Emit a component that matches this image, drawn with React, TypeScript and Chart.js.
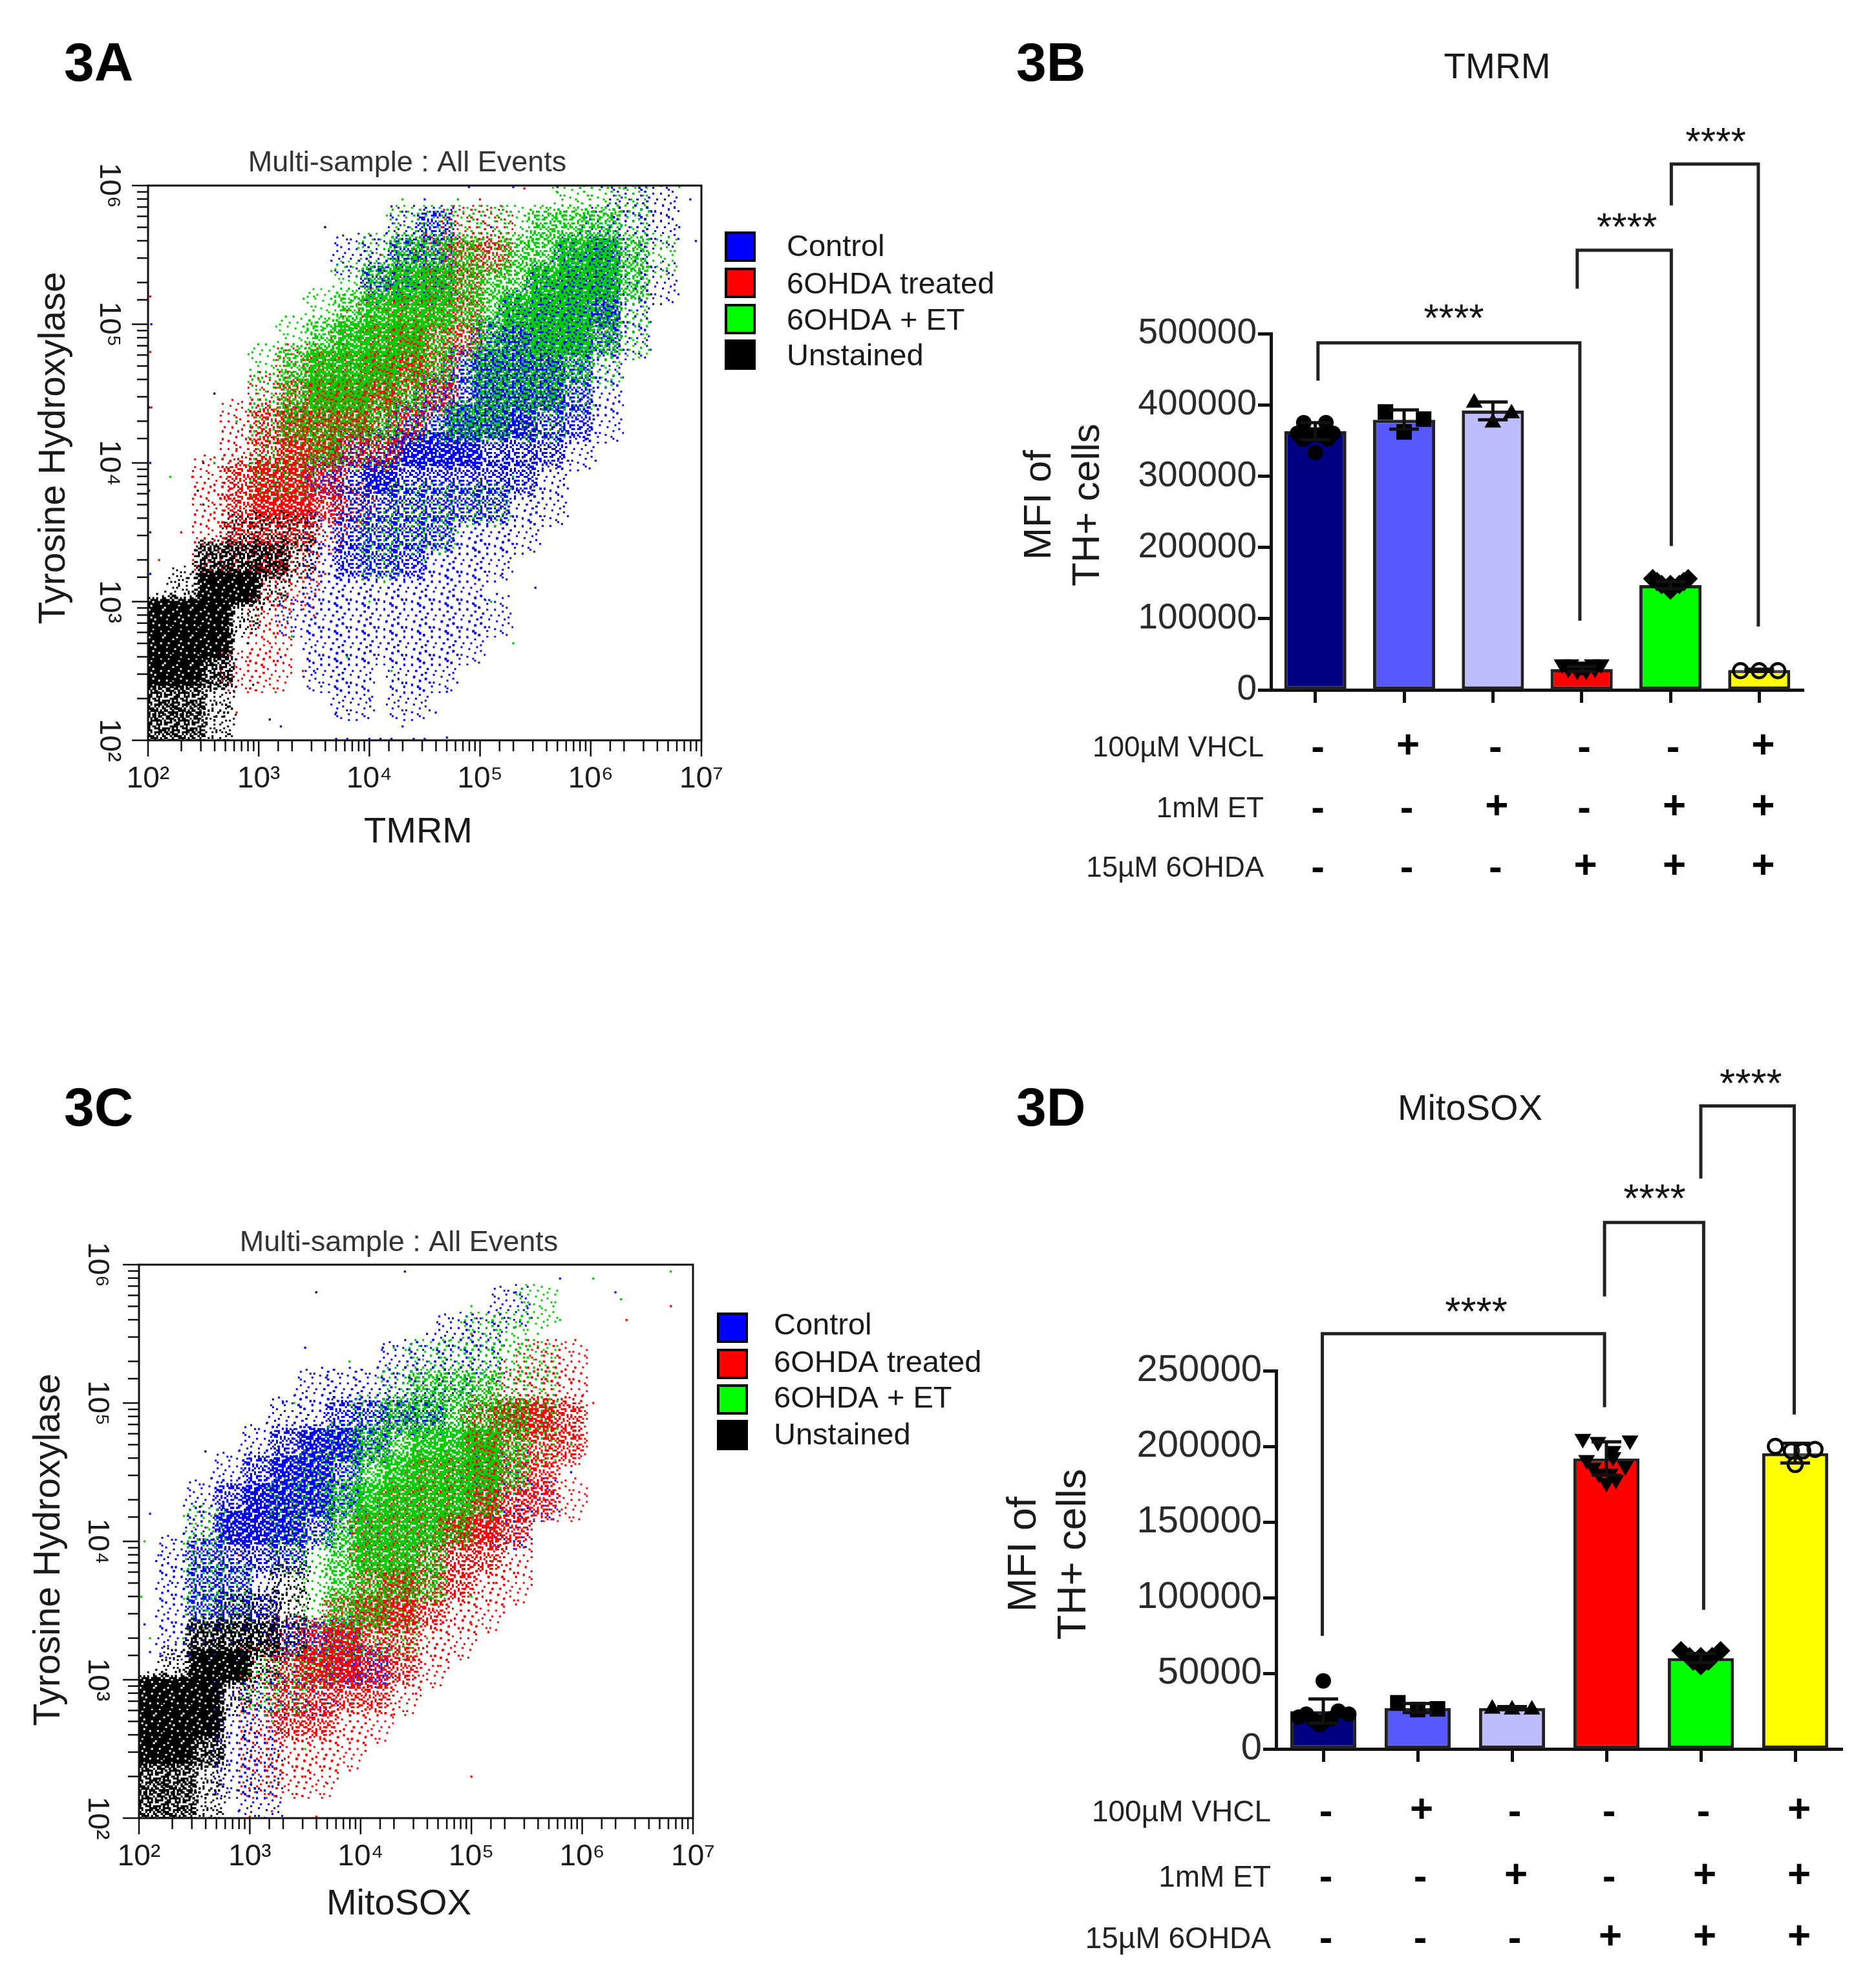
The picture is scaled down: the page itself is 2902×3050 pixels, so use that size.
import React, { useEffect, useRef } from "react";
import { Chart, registerables } from "chart.js";

Chart.register(...registerables);

const FONT = '"Liberation Sans", Arial, sans-serif';

// ---------- Flow cytometry panels ----------
// Hand-read density estimates: each row is [log10 y, [log10 x, ...]] for one tier of cloud density.
// The "Sparse" lists are individually read outlying events as [log10 x, log10 y].
const legendNames = ["Control", "6OHDA treated", "6OHDA + ET", "Unstained"];
const legendColors = ["#0000FF", "#FF0000", "#00FF00", "#000000"];
const powers = [2, 3, 4, 5, 6, 7];

const tmrmControlDense = [[3.9,[4.1]],[4.1,[4.35,4.6,4.85]],[4.3,[4.85,5.1,5.35]],[4.5,[5.1,5.35,5.6]],[4.7,[5.1,5.35,5.6]],[4.9,[5.35,5.6,5.85]],[5.1,[5.6,5.85,6.1]],[5.3,[5.85,6.1]],[5.5,[6.1]]];
const tmrmControlMedium = [[3.3,[3.85,4.1,4.35]],[3.5,[3.85,4.1,4.35,4.6]],[3.7,[3.85,4.1,4.35,4.6,4.85,5.1]],[3.9,[3.6,3.85,4.35,4.6,4.85,5.1,5.35]],[4.1,[3.85,4.1,5.1,5.35,5.6]],[4.3,[4.35,4.6,5.6,5.85]],[4.5,[4.6,4.85,5.85]],[4.7,[4.85,5.85]],[4.9,[5.1,6.1]],[5.1,[5.35]],[5.3,[4.1,4.35,4.6,5.6]],[5.5,[4.35,4.6,5.85]],[5.7,[4.6]]];
const tmrmControlLight = [[2.3,[3.85,4.35]],[2.5,[3.6,3.85,4.35,4.6]],[2.7,[3.6,3.85,4.1,4.35,4.6,4.85]],[2.9,[3.35,3.6,3.85,4.1,4.35,4.6,4.85,5.1]],[3.1,[3.6,3.85,4.1,4.35,4.6,4.85]],[3.3,[3.6,4.6,4.85,5.1]],[3.5,[3.6,4.85,5.1,5.35]],[3.7,[5.35,5.6]],[3.9,[5.6]],[4.1,[5.85]],[4.3,[6.1]],[4.5,[6.1]],[4.7,[6.1]],[4.9,[6.35]],[5.1,[6.35]],[5.3,[6.35,6.6]],[5.5,[4.1,3.85,6.35]],[5.7,[4.35,6.1,6.35,6.6]],[5.9,[6.35,6.6]]];
const tmrmControlSparse = [[3.2,2.6],[3.5,2.5],[3.7,2.2],[4.0,2.3],[4.3,2.1],[4.6,2.2],[5.2,3.2],[5.5,3.1],[3.2,2.1],[3.7,2.01],[3.8,2.01],[4.0,2.01],[4.1,2.01],[4.2,2.01],[4.4,2.01],[4.5,2.01],[4.7,2.02],[2.02,4.0],[2.02,3.5],[2.02,3.2],[2.03,5.0],[2.01,3.8],[2.01,4.4],[5.1,3.6],[4.7,2.35],[3.4,3.0],[3.1,3.0],[6.9,5.9],[6.8,5.7],[6.95,5.6],[5.1,5.7],[4.5,5.9],[4.2,5.85],[4.9,5.99],[5.3,5.99],[5.7,5.99],[6.1,5.99],[6.5,5.99]];

const tmrmTreatedDense = [[3.7,[3.1,3.35]],[3.9,[3.1,3.35]],[4.1,[3.35,3.6]],[4.3,[3.35,3.6,3.85]],[4.5,[3.6,3.85,4.1]],[4.7,[4.1,4.35]],[4.9,[4.35]]];
const tmrmTreatedMedium = [[3.3,[3.1]],[3.5,[2.85,3.1,3.35]],[3.7,[2.85,3.6]],[3.9,[2.85,3.6]],[4.1,[3.1,3.85,4.1]],[4.3,[3.1,4.1,4.35]],[4.5,[3.35,4.35,4.6]],[4.7,[3.6,3.85,4.6]],[4.9,[4.1,4.6,4.85]],[5.1,[4.35,4.6,4.85]],[5.3,[4.6,4.85]],[5.5,[4.85,5.1]]];
const tmrmTreatedLight = [[2.5,[2.85,3.1]],[2.7,[3.1]],[2.9,[3.1]],[3.1,[3.1,3.35]],[3.3,[2.6,2.85,3.35]],[3.5,[2.6,3.6]],[3.7,[2.6,3.85]],[3.9,[2.6]],[4.1,[2.85]],[4.3,[2.85]],[4.5,[3.1]],[4.7,[3.35]],[4.9,[3.85]],[5.1,[4.1]],[5.3,[4.35]],[5.5,[4.6]],[5.7,[4.85,5.1]]];
const tmrmTreatedSparse = [[2.1,3.3],[2.3,3.5],[2.4,3.9],[2.6,3.7],[2.8,4.1],[3.0,4.3],[3.3,4.65],[3.8,5.1],[4.1,5.5],[4.5,5.65],[5.0,5.9],[5.4,5.98],[2.02,4.8],[2.02,5.2],[2.03,4.4],[3.1,2.7],[2.9,2.6],[3.4,2.5],[2.8,2.2],[3.6,3.2],[4.7,4.2],[4.3,3.95],[3.0,2.9],[3.5,2.9]];

const tmrmComboDense = [[4.5,[3.6,3.85]],[4.7,[3.6,3.85,4.1]],[4.9,[3.85,4.1,4.35,5.6,5.85]],[5.1,[4.1,4.35,4.6,5.35,5.6,5.85]],[5.3,[4.35,4.6,5.6,5.85,6.1]],[5.5,[5.85,6.1]]];
const tmrmComboMedium = [[4.1,[3.6]],[4.3,[3.35,3.6,3.85,4.1,4.85,5.1]],[4.5,[3.35,4.1,4.35,5.1,5.35,5.6]],[4.7,[3.35,4.35,4.6,5.1,5.35,5.6,5.85]],[4.9,[3.6,4.6,5.1,5.35,6.1]],[5.1,[3.85,4.85,5.1,6.1]],[5.3,[4.1,4.85,5.1,5.35,6.35]],[5.5,[4.35,4.6,4.85,5.35,5.6,6.35]],[5.7,[5.6,5.85,6.1]]];
const tmrmComboLight = [[3.3,[4.1]],[3.5,[4.1,4.35,4.6]],[3.7,[4.35,4.6,4.85,5.1]],[3.9,[3.1,3.35]],[4.1,[3.1,3.35,3.85,4.1]],[4.3,[3.1,4.35,4.6,5.35,5.6]],[4.5,[3.1,4.6,5.85]],[4.7,[3.1,4.85,6.1]],[4.9,[3.35,4.85,6.35]],[5.1,[3.6,6.35]],[5.3,[3.85]],[5.5,[4.1,5.1,6.6]],[5.7,[4.35,4.6,4.85,5.1,5.35,6.35]],[5.9,[5.85,6.1,6.35]]];
const tmrmComboSparse = [[2.6,4.0],[2.8,4.3],[3.0,4.6],[3.2,4.8],[3.5,5.2],[3.9,5.55],[4.3,5.9],[4.8,5.9],[5.2,5.85],[5.7,5.95],[6.3,5.98],[6.8,5.99],[3.8,2.6],[4.2,2.5],[5.1,3.0],[5.3,2.7],[3.3,2.75],[4.5,3.3],[4.8,3.5],[5.3,3.9],[4.0,3.0],[6.2,4.9],[3.4,4.6],[2.2,3.9]];

const tmrmUnstainedDense = [[2.5,[2.1,2.35]],[2.7,[2.1,2.35,2.6]],[2.9,[2.1,2.35,2.6]],[3.1,[2.6,2.85]]];
const tmrmUnstainedMedium = [[2.1,[2.1,2.35]],[2.3,[2.1,2.35]],[2.5,[2.6]],[3.3,[2.6,2.85,3.1]]];
const tmrmUnstainedLight = [[2.1,[2.6]],[2.3,[2.6]],[2.9,[2.85]],[3.1,[2.35,3.1]],[3.3,[3.35]],[3.5,[2.85,3.1,3.35]]];
const tmrmUnstainedSparse = [[3.6,5.7],[2.6,4.5],[2.5,4.0],[2.45,3.8],[2.5,3.7],[3.1,2.15],[3.4,3.1],[3.5,3.6],[2.9,2.7],[2.95,2.4],[3.2,3.05]];

const soxControlDense = [[4.1,[2.85,3.1,3.35]],[4.3,[3.1,3.35,3.6]],[4.5,[3.35,3.6]],[4.7,[3.6,3.85]]];
const soxControlMedium = [[3.1,[3.85,4.1]],[3.3,[3.35,3.6,3.85]],[3.5,[2.6,2.85,3.1]],[3.7,[2.6,2.85]],[3.9,[2.6,2.85,3.1,3.35]],[4.1,[3.6]],[4.3,[2.85,3.85]],[4.5,[3.1,3.85]],[4.7,[3.35,4.1]],[4.9,[3.85,4.1,4.35,4.6]]];
const soxControlLight = [[2.1,[3.1]],[2.3,[2.85,3.1]],[2.5,[2.85,3.1]],[2.7,[2.85,3.1]],[2.9,[2.85,3.1,3.35,3.6]],[3.1,[3.35,3.6]],[3.3,[2.35,2.6,2.85,3.1]],[3.5,[2.35]],[3.7,[2.35,3.1]],[3.9,[2.35]],[4.1,[2.6,3.85,4.1,5.35]],[4.3,[2.6,5.35,5.6]],[4.5,[2.85,5.1,5.35]],[4.7,[3.1]],[4.9,[3.35,3.6]],[5.1,[3.6,3.85,4.1,4.35,4.6,4.85]],[5.3,[4.35,4.6,4.85,5.1]],[5.5,[4.85,5.1]],[5.7,[5.35]]];
const soxControlSparse = [[2.1,4.2],[2.2,3.9],[2.05,3.4],[2.1,3.2],[2.3,3.7],[2.4,3.9],[2.8,4.4],[3.0,4.6],[3.3,5.0],[3.5,5.4],[3.7,5.2],[4.2,5.4],[4.6,5.5],[5.0,5.6],[5.4,5.8],[5.8,5.9],[5.5,5.7],[6.3,5.8],[4.4,5.95],[3.0,2.2],[2.9,2.05],[3.2,2.5],[3.3,2.9],[3.5,2.8],[3.8,2.9],[4.0,3.0],[5.5,4.1],[5.9,4.5]];

const soxTreatedDense = [[3.1,[3.6,3.85]],[3.3,[3.85]],[3.5,[4.1,4.35]],[3.7,[4.35]],[4.1,[4.85,5.1]],[4.3,[5.1]],[4.5,[5.1]],[4.7,[5.1]],[4.9,[5.35,5.6]]];
const soxTreatedMedium = [[2.7,[3.35,3.6]],[2.9,[3.35,3.6,3.85,4.1]],[3.1,[3.35,4.1,4.35]],[3.3,[3.6,4.1,4.35]],[3.5,[3.85,4.6]],[3.7,[4.1,4.6,4.85]],[3.9,[4.1,4.35,4.6,4.85,5.1]],[4.1,[4.1,4.35,4.6,5.35]],[4.3,[4.35,4.6,4.85,5.35,5.6]],[4.5,[4.6,4.85,5.35,5.6]],[4.7,[5.35,5.6,5.85]],[4.9,[5.1,5.85]]];
const soxTreatedLight = [[2.3,[3.1,3.35,3.6]],[2.5,[3.1,3.35,3.6,3.85]],[2.7,[3.1,3.85,4.1]],[2.9,[3.1,4.35]],[3.1,[3.1,4.6]],[3.3,[3.35,4.6,4.85]],[3.5,[4.85,5.1]],[3.7,[5.1,5.35]],[3.9,[5.35]],[4.3,[5.85]],[5.1,[5.35,5.6,5.85]],[5.3,[5.6,5.85]]];
const soxTreatedSparse = [[3.1,2.2],[3.2,2.4],[3.5,2.3],[3.7,2.25],[3.9,2.5],[4.1,2.6],[4.3,2.75],[4.5,2.9],[4.7,3.1],[5.0,3.4],[5.2,3.7],[5.9,5.15],[6.0,5.05],[6.1,5.0],[6.4,5.6],[6.8,5.7],[5.0,5.5],[5.3,5.3],[5.6,5.4],[5.85,4.55],[5.9,4.9],[5.0,2.3],[2.9,3.9],[2.5,3.95],[3.2,2.05],[3.6,2.01],[3.0,2.01]];

const soxComboDense = [[3.9,[4.1,4.35]],[4.1,[4.1,4.35,4.6]],[4.3,[4.1,4.35,4.6,4.85]],[4.5,[4.35,4.6,4.85,5.1]],[4.7,[4.6,4.85,5.1]]];
const soxComboMedium = [[3.5,[3.85,4.1]],[3.7,[3.85,4.1,4.35,4.6]],[3.9,[3.85,4.6]],[4.1,[3.85,4.85]],[4.3,[3.85,5.1]],[4.5,[4.1,5.35]],[4.7,[4.1,4.35,5.35]],[4.9,[4.35,4.6,4.85,5.1,5.35]],[5.1,[4.6,4.85,5.1]]];
const soxComboLight = [[2.9,[3.1,3.35]],[3.1,[3.1,3.35,3.6]],[3.3,[3.85,4.1,4.35]],[3.5,[2.6,2.85,3.6,4.35]],[3.7,[2.6,2.85,3.6]],[3.9,[2.6,3.35,3.6]],[4.1,[2.6,3.35]],[4.3,[3.35,3.6]],[4.5,[3.6,3.85]],[4.7,[3.85,5.6]],[4.9,[4.1,5.6]],[5.1,[4.35,5.35,5.6]],[5.3,[4.6,4.85,5.1,5.35,5.6]],[5.5,[5.1,5.35]],[5.7,[5.6]]];
const soxComboSparse = [[2.1,3.3],[2.4,3.3],[2.6,3.5],[3.4,5.0],[3.9,5.3],[4.3,5.4],[4.8,5.45],[5.2,5.4],[5.6,5.5],[5.8,5.6],[6.1,5.9],[6.35,5.75],[6.8,5.95],[5.0,5.7],[5.4,5.55],[3.2,2.7],[3.5,2.5],[3.0,2.8],[2.05,4.0],[2.02,3.6],[4.6,3.3],[5.0,3.6],[5.9,4.7]];

const soxUnstainedDense = [[2.5,[2.1,2.35]],[2.7,[2.1,2.35,2.6]],[2.9,[2.1,2.35,2.6]],[3.1,[2.6,2.85]]];
const soxUnstainedMedium = [[2.1,[2.1,2.35]],[2.3,[2.1,2.35]],[2.5,[2.6]],[3.3,[2.6,2.85,3.1]]];
const soxUnstainedLight = [[2.1,[2.6]],[2.3,[2.6]],[2.9,[2.85]],[3.1,[2.35,3.1]],[3.3,[3.35]],[3.5,[2.85,3.1,3.35]],[3.7,[3.35]]];
const soxUnstainedSparse = [[3.6,5.8],[2.6,4.65],[2.55,4.25],[3.4,3.4],[3.2,3.35],[2.95,2.6],[2.9,2.2],[3.1,2.8]];

// Hand-typed stipple order used to draw a density tier as separate 3px dots.
const stippleOrder = [
  "31704962850317",
  "85260137946582",
  "49718305261974",
  "02693874150836",
  "76140528937241",
  "38925716048593",
  "61087349526108",
  "94532680714765",
  "27816093452039",
  "50349721683847",
  "13678240975126",
  "86950417326498",
  "42173859604072",
  "09564123798315",
];

// ---------- Bar panels ----------
const rowLabels = ["100µM VHCL", "1mM ET", "15µM 6OHDA"];
const vhclSigns = ["-", "+", "-", "-", "-", "+"];
const etSigns = ["-", "-", "+", "-", "+", "+"];
const ohdaSigns = ["-", "-", "-", "+", "+", "+"];
const barColors = ["#000080", "#5858FF", "#BEBEFF", "#FF0000", "#00FF00", "#FFFF00"];

const tmrmMeans = [363000, 379000, 392000, 29000, 147000, 28000];
const tmrmHigh = [375000, 393000, 404000, 33000, 152000, 29000];
const tmrmLow = [351000, 366000, 379000, 26000, 142000, 26000];
const tmrmTicks = [0, 100000, 200000, 300000, 400000, 500000];
const tmrmGroup0 = [[-0.13,375000],[0.12,375000],[-0.2,360000],[0.2,360000],[-0.05,358000],[0.05,358000],[0.14,352000],[-0.14,352000],[0,333000]];
const tmrmGroup1 = [[-0.21,390000],[0.22,380000],[0,362000]];
const tmrmGroup2 = [[-0.21,403000],[0.21,388000],[0,375000]];
const tmrmGroup3 = [[-0.22,36000],[-0.12,36000],[0,33000],[0.12,36000],[0.22,36000],[-0.15,30000],[-0.05,27000],[0.05,27000],[0.15,30000]];
const tmrmGroup4 = [[-0.2,156000],[0.2,156000],[-0.1,148000],[0.1,148000],[0,140000],[-0.15,152000],[0.15,152000],[0,148000]];
const tmrmGroup5 = [[-0.21,27000],[0,27000],[0.21,27000]];
const tmrmBracketEnds = [[0.03,2.98],[2.95,4.01],[4.01,4.99]];
const tmrmBracketTop = [487000, 617000, 738000];
const tmrmBracketLeftFoot = [434000, 563000, 680000];
const tmrmBracketRightFoot = [97000, 202000, 89000];
const tmrmStarX = [1.56, 3.51, 4.51];
const tmrmStarY = [532000, 660000, 780000];

const soxMeans = [25000, 27000, 27000, 192000, 60000, 195500];
const soxHigh = [33000, 30000, 28000, 203000, 63000, 202000];
const soxLow = [17000, 24000, 26000, 181000, 57000, 189000];
const soxTicks = [0, 50000, 100000, 150000, 200000, 250000];
const soxGroup0 = [[0,45000],[-0.18,23000],[0.16,25000],[-0.26,21000],[0.27,23000],[-0.04,16000],[0,18000],[-0.1,19000],[0.08,20000]];
const soxGroup1 = [[-0.21,30500],[0,26000],[0.21,26500]];
const soxGroup2 = [[-0.21,26500],[0,26000],[0.21,26000]];
const soxGroup3 = [[-0.25,205000],[-0.09,203000],[0.25,204000],[0.07,197000],[-0.21,191000],[0.07,193000],[-0.08,182000],[0.2,187000],[0,176000],[0.1,178000],[0.04,182000],[-0.14,186000]];
const soxGroup4 = [[-0.21,65000],[0.21,65000],[0,55000],[-0.12,61000],[0.12,61000],[0,61000],[-0.08,58000],[0.08,58000]];
const soxGroup5 = [[-0.21,200000],[0,188000],[0.21,198000],[-0.04,197000],[0.08,197000]];
const soxBracketEnds = [[-0.01,2.98],[2.98,4.03],[4,4.99]];
const soxBracketTop = [274500, 348000, 425000];
const soxBracketLeftFoot = [74800, 299000, 377000];
const soxBracketRightFoot = [225900, 92000, 221000];
const soxStarX = [1.62, 3.51, 4.53];
const soxStarY = [294000, 369000, 445000];

// ---------- Helpers ----------
const SUP: Record<string, string> = { "2": "²", "3": "³", "4": "⁴", "5": "⁵", "6": "⁶", "7": "⁷" };
const toEvents = (list: number[][]) => list.map(([a, b]) => ({ x: 10 ** a, y: 10 ** b }));
const cellsOf = (rows: any[]) => rows.flatMap(([ly, xs]: any) => xs.map((lx: number) => ({ x: 10 ** lx, y: 10 ** ly })));
const logLabel = (v: number) => {
  const e = Math.round(Math.log10(v));
  return powers.includes(e) && Math.abs(10 ** e - v) < 1e-6 * v ? `10${SUP[e]}` : "";
};

// One density cell: a rounded-square patch of separate 3px dots, even across the cell and thinning at its rim.
function stipple(color: string, below: number, shift: number) {
  const cell = 3;
  const cells = 23;
  const mid = (cells - 1) / 2;
  const c = document.createElement("canvas");
  c.width = c.height = cell * cells;
  const g = c.getContext("2d") as CanvasRenderingContext2D;
  g.fillStyle = color;
  for (let r = 0; r < cells; r++) {
    for (let k = 0; k < cells; k++) {
      const dist = Math.pow((r - mid) ** 4 + (k - mid) ** 4, 0.25) / (mid + 0.5);
      if (dist >= 1) continue;
      const limit = below * Math.min(1, (1 - dist) / 0.38);
      const d = Number(stippleOrder[(r + shift * 3) % 14][(k + shift * 5) % 14]);
      if (d < limit) g.fillRect(k * cell, r * cell, cell, cell);
    }
  }
  return c;
}

function drawText(ctx: any, t: any) {
  ctx.save();
  ctx.translate(t.x, t.y);
  if (t.rot) ctx.rotate(t.rot);
  ctx.font = t.font;
  ctx.fillStyle = t.color || "#1a1a1a";
  ctx.textAlign = t.align || "center";
  ctx.textBaseline = "middle";
  ctx.fillText(t.text, 0, 0);
  ctx.restore();
}

function scatterConfig(p: any) {
  const tiers = (color: string, src: any[], label: string, shift: number, levels: number[]) => [
    { label, data: toEvents(src[3]), pointStyle: "rect", pointRadius: 2.3, backgroundColor: color, borderWidth: 0, showLine: false },
    { label, data: cellsOf(src[0]), pointStyle: stipple(color, levels[0], shift), pointRadius: 35, showLine: false },
    { label, data: cellsOf(src[1]), pointStyle: stipple(color, levels[1], shift), pointRadius: 35, showLine: false },
    { label, data: cellsOf(src[2]), pointStyle: stipple(color, levels[2], shift), pointRadius: 35, showLine: false },
  ];
  const datasets = [
    ...tiers("#000000", p.unstained, legendNames[3], 0, [8.3, 6, 1.5]),
    ...tiers("#00CC00", p.combo, legendNames[2], 1, [6.5, 3.5, 0.9]),
    ...tiers("#FF0000", p.treated, legendNames[1], 2, [6.5, 3.5, 0.9]),
    ...tiers("#0000FF", p.control, legendNames[0], 3, [6.5, 3.5, 0.9]),
  ];
  const overlay = {
    id: "flowOverlay",
    afterDraw(chart: any) {
      const { ctx, chartArea: a, scales } = chart;
      ctx.save();
      ctx.strokeStyle = "#111";
      ctx.lineWidth = 3;
      ctx.strokeRect(a.left, a.top, a.right - a.left, a.bottom - a.top);
      ctx.lineWidth = 2.5;
      scales.x.ticks.forEach((t: any) => {
        const px = scales.x.getPixelForValue(t.value);
        const len = logLabel(t.value) ? 25 : 17;
        ctx.beginPath(); ctx.moveTo(px, a.bottom); ctx.lineTo(px, a.bottom + len); ctx.stroke();
      });
      scales.y.ticks.forEach((t: any) => {
        const py = scales.y.getPixelForValue(t.value);
        const len = logLabel(t.value) ? 25 : 17;
        ctx.beginPath(); ctx.moveTo(a.left, py); ctx.lineTo(a.left - len, py); ctx.stroke();
      });
      legendNames.forEach((name, i) => {
        const y = p.legendY[i];
        ctx.fillStyle = "#000";
        ctx.fillRect(p.legendX, y, 48, 47);
        ctx.fillStyle = legendColors[i];
        ctx.fillRect(p.legendX + 4, y + 4, 40, 39);
        drawText(ctx, { text: name, x: p.legendX + p.legendTextGap, y: p.legendTextY[i], font: `47px ${FONT}`, align: "left" });
      });
      p.texts.forEach((t: any) => drawText(ctx, t));
      ctx.restore();
    },
  };
  return {
    type: "scatter",
    data: { datasets },
    plugins: [overlay],
    options: {
      responsive: false,
      animation: false,
      events: [],
      layout: { padding: { left: 0, top: p.area.top, right: p.width - p.area.right, bottom: p.height - p.area.bottom - 100 } },
      plugins: { legend: { display: false }, tooltip: { enabled: false }, title: { display: false } },
      scales: {
        x: {
          type: "logarithmic", min: 100, max: 1e7,
          afterFit: (s: any) => { s.height = 100; },
          grid: { drawOnChartArea: false, drawTicks: false }, border: { display: false },
          ticks: { autoSkip: false, maxRotation: 0, minRotation: 0, padding: 33, color: "#1a1a1a", font: { family: FONT, size: 46 }, callback: (v: any) => logLabel(Number(v)) },
        },
        y: {
          type: "logarithmic", min: 100, max: 1e6,
          afterFit: (s: any) => { s.width = p.area.left; },
          grid: { drawOnChartArea: false, drawTicks: false }, border: { display: false },
          ticks: { autoSkip: false, minRotation: -90, maxRotation: -90, crossAlign: "center", padding: p.yTickPad, color: "#1a1a1a", font: { family: FONT, size: 46 }, callback: (v: any) => logLabel(Number(v)) },
        },
      },
    },
  };
}

function barConfig(p: any) {
  const styles = [
    { pointStyle: "circle", pointRadius: 12, backgroundColor: "#000", borderWidth: 0 },
    { pointStyle: "rect", pointRadius: 17, backgroundColor: "#000", borderWidth: 0 },
    { pointStyle: "triangle", pointRadius: 15, backgroundColor: "#000", borderWidth: 0 },
    { pointStyle: "triangle", pointRotation: 180, pointRadius: 15, backgroundColor: "#000", borderWidth: 0 },
    { pointStyle: "rectRot", pointRadius: 15, backgroundColor: "#000", borderWidth: 0 },
    { pointStyle: "circle", pointRadius: 11, backgroundColor: "rgba(255,255,255,0.15)", borderColor: "#000", borderWidth: 4.5 },
  ];
  const scatterSets = p.groups.map((g: number[][], i: number) => ({
    type: "scatter", data: g.map(([dx, y]) => ({ x: i + dx, y })), showLine: false, clip: false,
    pointBorderWidth: styles[i].borderWidth, pointBorderColor: styles[i].borderColor,
    pointBackgroundColor: styles[i].backgroundColor, pointStyle: styles[i].pointStyle,
    pointRotation: (styles[i] as any).pointRotation || 0, pointRadius: styles[i].pointRadius,
  }));
  const overlay = {
    id: "barOverlay",
    afterDatasetsDraw(chart: any) {
      const { ctx, scales: { x, y } } = chart;
      ctx.save();
      ctx.strokeStyle = "#111";
      ctx.lineWidth = 5;
      p.means.forEach((m: number, i: number) => {
        const px = x.getPixelForValue(i);
        const hi = y.getPixelForValue(p.high[i]);
        const lo = y.getPixelForValue(p.low[i]);
        ctx.beginPath();
        ctx.moveTo(px, hi); ctx.lineTo(px, lo);
        ctx.moveTo(px - 23, hi); ctx.lineTo(px + 23, hi);
        ctx.moveTo(px - 23, lo); ctx.lineTo(px + 23, lo);
        ctx.stroke();
      });
      ctx.strokeStyle = "#222";
      ctx.lineWidth = 5;
      p.brackets.forEach(([a, b]: number[], i: number) => {
        const xa = x.getPixelForValue(a);
        const xb = x.getPixelForValue(b);
        ctx.beginPath();
        ctx.moveTo(xa, y.getPixelForValue(p.bracketLeft[i]));
        ctx.lineTo(xa, y.getPixelForValue(p.bracketTop[i]));
        ctx.lineTo(xb, y.getPixelForValue(p.bracketTop[i]));
        ctx.lineTo(xb, y.getPixelForValue(p.bracketRight[i]));
        ctx.stroke();
        drawText(ctx, { text: "****", x: x.getPixelForValue(p.starX[i]), y: y.getPixelForValue(p.starY[i]) + 15, font: `${p.starFont}px ${FONT}`, color: "#111" });
      });
      [vhclSigns, etSigns, ohdaSigns].forEach((signs, r) => {
        drawText(ctx, { text: rowLabels[r], x: p.rowRight, y: p.rowY[r], font: `${p.rowFont}px ${FONT}`, align: "right", color: "#222" });
        signs.forEach((s, i) => {
          const plus = s === "+";
          drawText(ctx, { text: s, x: x.getPixelForValue(i) + (plus ? 6 : 4), y: p.rowY[r] - (plus ? 3 : 0), font: `bold 62px ${FONT}`, color: "#000" });
        });
      });
      p.texts.forEach((t: any) => drawText(ctx, t));
      ctx.restore();
    },
  };
  return {
    type: "bar",
    data: {
      datasets: [
        ...scatterSets,
        {
          type: "bar", data: p.means.map((v: number, i: number) => ({ x: i, y: v })),
          backgroundColor: barColors, borderColor: "#222", borderWidth: 5, borderSkipped: false,
          barPercentage: 0.7, categoryPercentage: 1,
        },
      ],
    },
    plugins: [overlay],
    options: {
      responsive: false,
      animation: false,
      events: [],
      layout: { padding: { left: 0, top: p.area.top, right: p.width - p.area.right, bottom: p.height - p.area.bottom - 40 } },
      plugins: { legend: { display: false }, tooltip: { enabled: false }, title: { display: false } },
      scales: {
        x: {
          type: "linear", min: -0.5, max: 5.5, offset: false,
          afterFit: (s: any) => { s.height = 40; },
          afterBuildTicks: (s: any) => { s.ticks = p.means.map((_: number, i: number) => ({ value: i })); },
          grid: { offset: false, drawOnChartArea: false, tickLength: 20, tickWidth: 5, tickColor: "#111" },
          border: { color: "#111", width: 5 },
          ticks: { display: false },
        },
        y: {
          type: "linear", min: 0, max: p.ticks[p.ticks.length - 1],
          afterFit: (s: any) => { s.width = p.area.left; },
          afterBuildTicks: (s: any) => { s.ticks = p.ticks.map((value: number) => ({ value })); },
          grid: { drawOnChartArea: false, tickLength: 20, tickWidth: 5, tickColor: "#111" },
          border: { color: "#111", width: 5 },
          ticks: { padding: 2, color: "#2a2a2a", font: { family: FONT, size: p.tickFont }, callback: (v: any) => String(v) },
        },
      },
    },
  };
}

const rot = -Math.PI / 2;

const panelA = {
  left: 0, top: 200, width: 1560, height: 1150,
  area: { left: 229, right: 1085, top: 87, bottom: 945 },
  yTickPad: 26, legendX: 1121, legendTextGap: 96, legendY: [158, 214, 270, 325], legendTextY: [183, 241, 297, 352],
  control: [tmrmControlDense, tmrmControlMedium, tmrmControlLight, tmrmControlSparse],
  treated: [tmrmTreatedDense, tmrmTreatedMedium, tmrmTreatedLight, tmrmTreatedSparse],
  combo: [tmrmComboDense, tmrmComboMedium, tmrmComboLight, tmrmComboSparse],
  unstained: [tmrmUnstainedDense, tmrmUnstainedMedium, tmrmUnstainedLight, tmrmUnstainedSparse],
  texts: [
    { text: "Multi-sample : All Events", x: 630, y: 53, font: `45px ${FONT}`, color: "#333" },
    { text: "Tyrosine Hydroxylase", x: 84, y: 493, rot, font: `57px ${FONT}` },
    { text: "TMRM", x: 647, y: 1088, font: `56px ${FONT}` },
  ],
};

const panelC = {
  left: 0, top: 1860, width: 1560, height: 1150,
  area: { left: 215, right: 1072, top: 96, bottom: 952 },
  yTickPad: 30, legendX: 1109, legendTextGap: 88, legendY: [170, 226, 281, 336], legendTextY: [191, 249, 304, 361],
  control: [soxControlDense, soxControlMedium, soxControlLight, soxControlSparse],
  treated: [soxTreatedDense, soxTreatedMedium, soxTreatedLight, soxTreatedSparse],
  combo: [soxComboDense, soxComboMedium, soxComboLight, soxComboSparse],
  unstained: [soxUnstainedDense, soxUnstainedMedium, soxUnstainedLight, soxUnstainedSparse],
  texts: [
    { text: "Multi-sample : All Events", x: 617, y: 63, font: `45px ${FONT}`, color: "#333" },
    { text: "Tyrosine Hydroxylase", x: 76, y: 537, rot, font: `57px ${FONT}` },
    { text: "MitoSOX", x: 617, y: 1086, font: `56px ${FONT}` },
  ],
};

const panelB = {
  left: 1540, top: 0, width: 1362, height: 1400,
  area: { left: 426, right: 1250, top: 516, bottom: 1067 },
  tickFont: 55, rowFont: 44, starFont: 60, rowRight: 415, rowY: [1158, 1252, 1344],
  means: tmrmMeans, high: tmrmHigh, low: tmrmLow, ticks: tmrmTicks,
  groups: [tmrmGroup0, tmrmGroup1, tmrmGroup2, tmrmGroup3, tmrmGroup4, tmrmGroup5],
  brackets: tmrmBracketEnds, bracketTop: tmrmBracketTop, bracketLeft: tmrmBracketLeftFoot, bracketRight: tmrmBracketRightFoot,
  starX: tmrmStarX, starY: tmrmStarY,
  texts: [
    { text: "TMRM", x: 776, y: 106, font: `55px ${FONT}` },
    { text: "MFI of", x: 68, y: 781, rot, font: `60px ${FONT}` },
    { text: "TH+ cells", x: 143, y: 781, rot, font: `60px ${FONT}` },
  ],
};

const panelD = {
  left: 1540, top: 1620, width: 1362, height: 1430,
  area: { left: 434, right: 1310, top: 500, bottom: 1085 },
  tickFont: 58, rowFont: 46, starFont: 62, rowRight: 426, rowY: [1184, 1285, 1380],
  means: soxMeans, high: soxHigh, low: soxLow, ticks: soxTicks,
  groups: [soxGroup0, soxGroup1, soxGroup2, soxGroup3, soxGroup4, soxGroup5],
  brackets: soxBracketEnds, bracketTop: soxBracketTop, bracketLeft: soxBracketLeftFoot, bracketRight: soxBracketRightFoot,
  starX: soxStarX, starY: soxStarY,
  texts: [
    { text: "MitoSOX", x: 734, y: 97, font: `56px ${FONT}` },
    { text: "MFI of", x: 45, y: 784, rot, font: `63px ${FONT}` },
    { text: "TH+ cells", x: 122, y: 784, rot, font: `63px ${FONT}` },
  ],
};

function Panel({ spec, build }: { spec: any; build: (p: any) => any }) {
  const ref = useRef<HTMLCanvasElement | null>(null);
  useEffect(() => {
    const chart = new Chart(ref.current as HTMLCanvasElement, build(spec));
    return () => chart.destroy();
  }, []);
  return (
    <canvas
      ref={ref}
      width={spec.width}
      height={spec.height}
      style={{ position: "absolute", left: spec.left, top: spec.top, width: spec.width, height: spec.height }}
    />
  );
}

const panelTags = [
  { text: "3A", left: 99, top: 54 },
  { text: "3B", left: 1572, top: 54 },
  { text: "3C", left: 99, top: 1670 },
  { text: "3D", left: 1572, top: 1670 },
];

export default function App() {
  return (
    <div style={{ position: "absolute", left: 0, top: 0, width: 2902, height: 3050, background: "#fff", overflow: "hidden" }}>
      <Panel spec={panelA} build={scatterConfig} />
      <Panel spec={panelB} build={barConfig} />
      <Panel spec={panelC} build={scatterConfig} />
      <Panel spec={panelD} build={barConfig} />
      {panelTags.map((t) => (
        <div key={t.text} style={{ position: "absolute", left: t.left, top: t.top, font: `bold 84px/84px ${FONT}`, color: "#000" }}>{t.text}</div>
      ))}
    </div>
  );
}
